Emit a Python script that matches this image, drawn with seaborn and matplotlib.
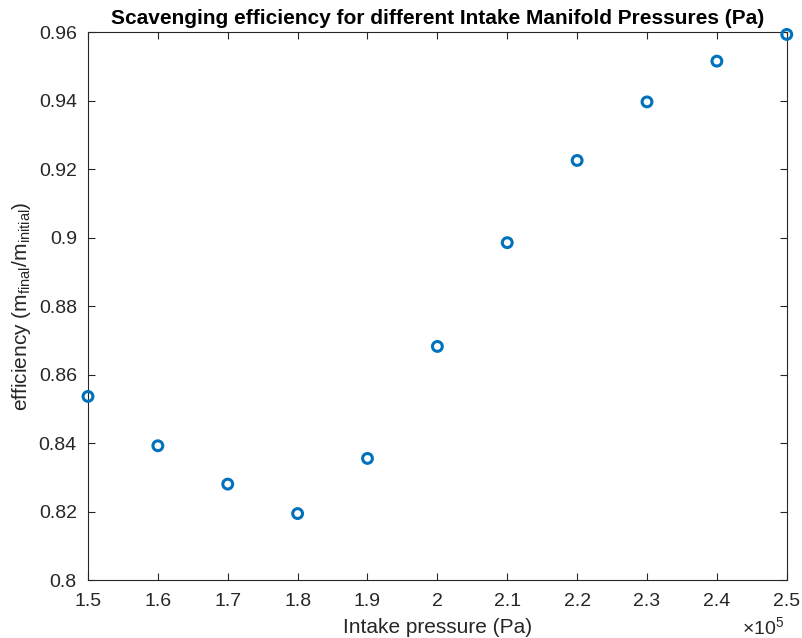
import matplotlib
matplotlib.use("Agg")
import matplotlib.pyplot as plt
import seaborn as sns
import numpy as np
import pandas as pd
from matplotlib.ticker import FuncFormatter, MultipleLocator

pressure = [150000, 160000, 170000, 180000, 190000, 200000, 210000, 220000, 230000, 240000, 250000]
efficiency = [0.8536, 0.8392, 0.8280, 0.8194, 0.8355, 0.8682, 0.8985, 0.9225, 0.9396, 0.9515, 0.9593]

df = pd.DataFrame({"p": pressure, "eff": efficiency})

sns.set_style("white")
plt.rcParams['font.family'] = ['Liberation Sans', 'DejaVu Sans']
plt.rcParams['mathtext.fontset'] = 'custom'
plt.rcParams['mathtext.rm'] = 'Liberation Sans'
plt.rcParams['mathtext.it'] = 'Liberation Sans'

fig = plt.figure(figsize=(8.02, 6.38), dpi=100)
ax = fig.add_axes([0.1097, 0.0909, 0.8713, 0.8589])

sns.scatterplot(data=df, x="p", y="eff", ax=ax, marker="o", s=50,
                facecolor="none", edgecolor="#0072BD", linewidth=2.2, clip_on=False, zorder=5)

ax.set_xlim(150000, 250000)
ax.set_ylim(0.8, 0.96)
ax.xaxis.set_major_locator(MultipleLocator(10000))
ax.yaxis.set_major_locator(MultipleLocator(0.02))
ax.xaxis.set_major_formatter(FuncFormatter(lambda v, pos: "%g" % round(v / 1e5, 4)))
ax.yaxis.set_major_formatter(FuncFormatter(lambda v, pos: "%g" % round(v, 4)))

for s in ax.spines.values():
    s.set_visible(True)
    s.set_color("#262626")
    s.set_linewidth(0.8)
ax.tick_params(direction="in", length=5, width=0.8, colors="#262626", labelsize=14,
               top=True, right=True, bottom=True, left=True, labelcolor="#262626")
ax.tick_params(axis="x", pad=9)
ax.tick_params(axis="y", pad=8)

ax.set_xlabel("Intake pressure (Pa)", fontsize=15, color="#262626", labelpad=6)
ax.set_ylabel(r"efficiency (m$_{\mathrm{final}}$/m$_{\mathrm{initial}}$)", fontsize=15, color="#262626", labelpad=4)
ax.set_title("Scavenging efficiency for different Intake Manifold Pressures (Pa)",
             fontsize=15, fontweight="bold", color="black", pad=6)

fig.text(0.978, 0.0, r"$\times$10$^{5}$", ha="right", va="bottom", fontsize=14, color="#262626")

fig.savefig("out.png", dpi=100)
